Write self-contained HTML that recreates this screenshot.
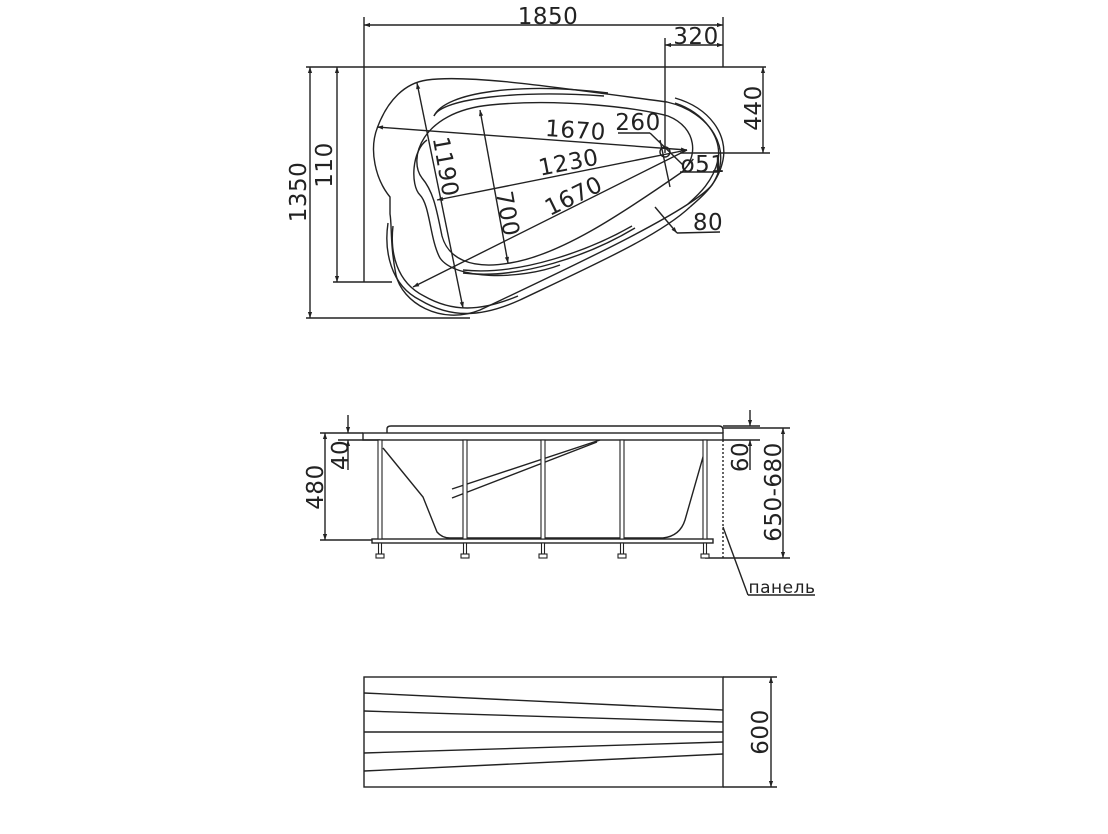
<!DOCTYPE html>
<html><head><meta charset="utf-8"><style>
html,body{margin:0;padding:0;background:#fff;}
svg{display:block;}
text{font-family:"DejaVu Sans","Liberation Sans",sans-serif;font-size:23px;fill:#222;letter-spacing:0.5px;}
</style></head><body>
<svg width="1108" height="834" viewBox="0 0 1108 834" xmlns="http://www.w3.org/2000/svg">
<defs>
<marker id="a" viewBox="0 0 10 10" refX="10" refY="5" markerWidth="10" markerHeight="6" orient="auto-start-reverse" markerUnits="userSpaceOnUse"><path d="M0,1.5 L10,5 L0,8.5 Z" fill="#222"/></marker>
</defs>
<g stroke="#222" stroke-width="1.4" fill="none">
<line x1="364" y1="17" x2="364" y2="282"/>
<line x1="723" y1="17" x2="723" y2="67"/>
<line x1="665" y1="38" x2="665" y2="153"/>
<line x1="306" y1="67" x2="766" y2="67"/>
<line x1="306" y1="318" x2="470" y2="318"/>
<line x1="333" y1="282" x2="392" y2="282"/>
<line x1="680" y1="153" x2="770" y2="153"/>
<line x1="364" y1="25" x2="723" y2="25" marker-start="url(#a)" marker-end="url(#a)"/>
<line x1="665" y1="45" x2="723" y2="45" marker-start="url(#a)" marker-end="url(#a)"/>
<line x1="310" y1="67" x2="310" y2="318" marker-start="url(#a)" marker-end="url(#a)"/>
<line x1="337" y1="67" x2="337" y2="282" marker-start="url(#a)" marker-end="url(#a)"/>
<line x1="763" y1="67" x2="763" y2="153" marker-start="url(#a)" marker-end="url(#a)"/>
<path d="M427,80 C470,74 560,88 667,102 C710,112 735,150 712,185 C690,212 560,272 480,310 C440,326 402,302 396,275 C390,245 392,225 390,214 L390,197 C376,180 368,150 378,126 C388,100 405,83 427,80 Z"/>
<path d="M490,105 C560,98 640,108 668,116 C698,128 698,158 682,172 C620,215 560,255 510,263 C470,270 448,258 442,236 C437,212 434,192 422,178 C408,160 420,112 490,105 Z"/>
<path d="M434,116 C445,92 520,82 608,93"/>
<path d="M434,116 C442,98 520,90 604,96"/>
<path d="M427,140 C412,150 410,185 420,195 C430,205 430,240 440,258 C455,280 520,280 560,265"/>
<path d="M463,273 C520,280 590,255 635,228"/>
<path d="M463,270 C520,276 590,250 632,226"/>
<path d="M675,98 C710,108 728,135 723,160 C718,185 700,198 690,207"/>
<path d="M675,103 C705,113 722,138 718,160 C713,182 698,195 688,204"/>
<path d="M388,223 C384,250 390,285 420,300 C450,318 480,318 520,300 C600,262 660,235 690,207"/>
<path d="M393,226 C390,252 396,282 424,296 C452,312 480,312 518,296"/>
<circle cx="665" cy="152" r="5"/>
<line x1="377" y1="127" x2="687" y2="150" marker-start="url(#a)" marker-end="url(#a)"/>
<line x1="437" y1="200" x2="687" y2="150" marker-start="url(#a)"/>
<line x1="413" y1="287" x2="687" y2="150" marker-start="url(#a)"/>
<line x1="417" y1="83" x2="463" y2="308" marker-start="url(#a)" marker-end="url(#a)"/>
<line x1="480" y1="110" x2="508" y2="263" marker-start="url(#a)" marker-end="url(#a)"/>
<line x1="618" y1="133" x2="650" y2="133"/>
<line x1="650" y1="133" x2="683" y2="165"/>
<line x1="660" y1="140" x2="670" y2="187"/>
<line x1="680" y1="172" x2="718" y2="172"/>
<line x1="655" y1="207" x2="677" y2="233" marker-end="url(#a)"/>
<line x1="677" y1="233" x2="720" y2="232"/>

<path d="M387,433 L387,429 Q387,426 391,426 L719,426 Q723,426 723,430 L723,433"/>
<rect x="363" y="433" width="360" height="7"/>
<line x1="320" y1="433" x2="363" y2="433"/>
<line x1="338" y1="440" x2="380" y2="440"/>
<line x1="320" y1="540" x2="372" y2="540"/>
<line x1="723" y1="426" x2="760" y2="426"/>
<line x1="723" y1="440" x2="760" y2="440"/>
<line x1="705" y1="558" x2="790" y2="558"/>
<line x1="723" y1="428" x2="790" y2="428"/>
<line x1="348" y1="415" x2="348" y2="433" marker-end="url(#a)"/>
<line x1="348" y1="440" x2="348" y2="470" marker-start="url(#a)"/>
<line x1="325" y1="433" x2="325" y2="540" marker-start="url(#a)" marker-end="url(#a)"/>
<line x1="750" y1="410" x2="750" y2="426" marker-end="url(#a)"/>
<line x1="750" y1="440" x2="750" y2="470" marker-start="url(#a)"/>
<line x1="783" y1="428" x2="783" y2="558" marker-start="url(#a)" marker-end="url(#a)"/>
<rect x="372" y="539" width="341" height="4"/>
<path d="M383,448 L423,497 L437,532 Q442,538 450,538 L663,538 Q680,536 685,520 L705,450"/>
<line x1="452" y1="489" x2="600" y2="440"/>
<line x1="452" y1="498" x2="597" y2="442"/>
<line x1="723" y1="440" x2="723" y2="558" stroke-dasharray="2,2"/>
<line x1="723" y1="527" x2="748" y2="595"/>
<line x1="748" y1="595" x2="815" y2="595"/>
<rect x="364" y="677" width="359" height="110"/>
<line x1="364" y1="693" x2="723" y2="710"/>
<line x1="364" y1="711" x2="723" y2="722"/>
<line x1="364" y1="732" x2="723" y2="732"/>
<line x1="364" y1="753" x2="723" y2="742"/>
<line x1="364" y1="771" x2="723" y2="754"/>
<line x1="723" y1="677" x2="777" y2="677"/>
<line x1="723" y1="787" x2="777" y2="787"/>
<line x1="771" y1="677" x2="771" y2="787" marker-start="url(#a)" marker-end="url(#a)"/>
</g>
<g stroke="#222" stroke-width="1.1" fill="#fff">
<rect x="378" y="440" width="4" height="99"/><rect x="463" y="440" width="4" height="99"/><rect x="541" y="440" width="4" height="99"/><rect x="620" y="440" width="4" height="99"/><rect x="703" y="440" width="4" height="99"/>
<rect x="378.5" y="543" width="3" height="11"/><rect x="463.5" y="543" width="3" height="11"/><rect x="541.5" y="543" width="3" height="11"/><rect x="620.5" y="543" width="3" height="11"/><rect x="703.5" y="543" width="3" height="11"/>
<rect x="376" y="554" width="8" height="4"/><rect x="461" y="554" width="8" height="4"/><rect x="539" y="554" width="8" height="4"/><rect x="618" y="554" width="8" height="4"/><rect x="701" y="554" width="8" height="4"/>
</g>
<text x="548" y="24" text-anchor="middle">1850</text>
<text x="696" y="44" text-anchor="middle">320</text>
<text transform="translate(306,192) rotate(-90)" text-anchor="middle">1350</text>
<text transform="translate(332,165) rotate(-90)" text-anchor="middle">110</text>
<text transform="translate(761,108) rotate(-90)" text-anchor="middle">440</text>
<text transform="translate(575,138) rotate(4)" text-anchor="middle">1670</text>
<text transform="translate(570,170) rotate(-11)" text-anchor="middle">1230</text>
<text transform="translate(577,203) rotate(-26)" text-anchor="middle">1670</text>
<text transform="translate(438,168) rotate(80)" text-anchor="middle">1190</text>
<text transform="translate(500,215) rotate(80)" text-anchor="middle">700</text>
<text x="638" y="130" text-anchor="middle">260</text>
<text x="703" y="172" text-anchor="middle">ø51</text>
<text x="708" y="230" text-anchor="middle">80</text>
<text transform="translate(348,455) rotate(-90)" text-anchor="middle">40</text>
<text transform="translate(323,487) rotate(-90)" text-anchor="middle">480</text>
<text transform="translate(748,457) rotate(-90)" text-anchor="middle">60</text>
<text transform="translate(781,492) rotate(-90)" text-anchor="middle">650-680</text>
<text x="782" y="593" text-anchor="middle" style="font-size:17px">панель</text>
<text transform="translate(768,732) rotate(-90)" text-anchor="middle">600</text>
</svg>
</body></html>
